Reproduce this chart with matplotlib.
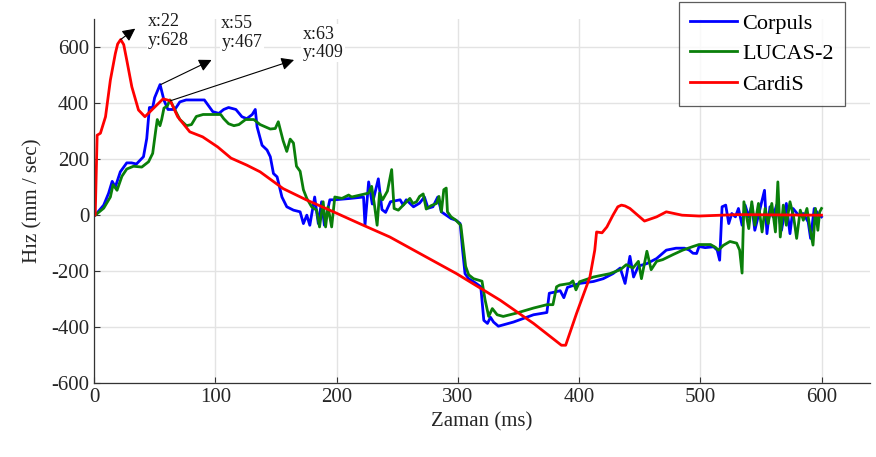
import matplotlib
matplotlib.use("Agg")
import matplotlib.pyplot as plt

plt.rcParams["font.family"] = ["Liberation Serif", "DejaVu Serif"]
plt.rcParams["axes.unicode_minus"] = False

# Corpuls
corpuls_x = [0, 1, 8, 12, 15, 17.6, 21.7, 27, 31, 35, 40.8, 43.5, 45.7, 48.4, 50, 54.5, 57.7, 61, 66.7,
             70.8, 76, 91, 94, 98, 103, 107, 111, 117, 122, 126, 130.5, 133, 134.5, 138.6, 142.7, 145.4,
             148, 151, 155, 159, 164.5, 170, 172.7, 175.5, 178, 182, 185, 187.7, 190, 194.5, 198.6,
             211.5, 222.3, 223.5, 226.5, 229.5, 234.5, 237.5, 240.5, 244.5, 252.5, 255, 257.5, 263.5,
             268.5, 272.5, 275.5, 279.5, 283.5, 286.5, 290.5, 294.5, 298.5, 302, 304, 306, 309, 314.5,
             319, 321.5, 324.5, 327, 329.5, 333.5, 346, 362.5, 373.5, 375.5, 380, 384.5, 387.5, 390.5,
             400.5, 412, 420, 428, 434, 438, 442, 445, 449, 456, 464, 472, 480, 487, 491, 494, 497, 499,
             504, 511, 514, 516, 518, 521, 523.5, 526, 529, 531.5, 534.5, 537, 540, 542.5, 545, 548,
             551, 553, 555, 557.5, 560, 563, 567, 571, 574, 576.5, 581, 585, 589, 591, 594, 597, 600]
corpuls_y = [0, 0, 36, 78, 121, 101, 155, 187, 187, 183, 209, 274, 385, 385, 420, 467, 411, 378, 378,
             405, 412, 412, 394, 370, 364, 378, 385, 378, 352, 345, 360, 378, 316, 250, 233, 209,
             149, 137, 65, 30, 18, 12, -30, 0, -36, 65, -30, 48, -36, 55, 55,
             60, 65, -36, 119, 40, 130, 20, 10, 48, 55, 36, 55, 30,
             43, 65, 25, 30, 65, 12, 0, -12, -18, -30, -125, -209, -227, -242,
             -256, -376, -387, -365, -382, -397, -382, -356, -348, -279, -275, -270, -295, -258,
             -244, -237, -227, -209, -189, -244, -147, -221, -182, -173, -155, -125, -118, -118, -125, -136, -137, -112,
             -116, -113, -125, -161, 30, 36, -30, 6, -6, 24, -36, 36, -6, 36, -54, 0,
             54, 89, -66, 30, -6, 36, -54, 42, -66, 24, 0, 6, -24, -83, 24, 6, -6]

# LUCAS-2
lucas_x = [0, 1, 8, 13.5, 15.7, 19, 23, 27, 32.6, 39.4, 45, 48.4, 51, 52.2, 54.4, 55.8, 57.7, 60.4, 62.6,
           66.7, 70.8, 76.3, 80.4, 84.4, 90, 104.5, 107, 111, 115.4, 119.5, 125, 131.8, 137, 145.4,
           149.5, 152, 156, 159, 161.8, 164.5, 167, 170, 172.7, 175.5, 179.5, 183.6, 186, 189, 191,
           193, 196, 198.6, 204.5, 210, 212.5, 219.5, 226.5, 229, 231.5, 233.5, 235.5, 238, 242,
           245.5, 247.5, 251, 256.5, 260.5, 263, 266, 268.5, 271.5, 274, 278, 282.5, 284.5, 286.5,
           288.5, 290.5, 291.5, 294.5, 298.5, 302.5, 306.5, 309, 313, 320, 322.5, 325.5, 328.5, 332.5,
           337.5, 348.5, 362.5, 373.5, 378.5, 381.5, 384, 392.5, 395, 397.5, 400.5, 412, 425.5, 434,
           439, 444.5, 449, 451.5, 456, 459.5, 464, 469, 477.5, 485.5, 494, 499, 508.5, 512.5, 515,
           519, 524.5, 530, 532.5, 534.5, 536, 540, 542.5, 545, 548, 551, 553.5, 556, 559, 562, 564,
           566, 568.5, 571, 574, 577, 579.5, 582.5, 585, 588, 590.5, 593, 595, 597, 598.5, 600]
lucas_y = [0, 0, 25, 65, 109, 89, 139, 165, 175, 172, 191, 221, 306, 342, 320, 342, 383, 390, 412,
           377, 342, 320, 324, 353, 360, 360, 345, 327, 320, 324, 342, 342, 324, 308,
           310, 334, 266, 228, 272, 258, 175, 157, 91, 60, 30, 18, -42, 48, -42,
           30, -42, 65, 60, 72, 65, 72, 79, 103, 30, -36, 79, 55, 86,
           163, 24, 18, 42, 60, 42, 48, 67, 76, 22, 34, 42, 67, 12,
           91, 97, 12, -6, -18, -36, -183, -213, -227, -236, -302, -362, -334, -356,
           -362, -350, -332, -320, -320, -256, -250, -244, -235, -267, -238, -221, -209, -195,
           -177, -189, -165, -227, -129, -195, -165, -159, -141, -125, -112, -105, -105, -115, -125,
           -108, -94, -100, -125, -207, 48, -48, 48, -36, 42, -60, 24, -30, 42, -60, 119,
           -78, 36, -36, 48, -6, -83, 18, -18, 24, -48, -107, 24, -54, 12, 24]

# CardiS
cardis_x = [0, 1, 2.6, 5.3, 9.5, 13.5, 17.6, 19.5, 22, 24.5, 27, 31.2, 36.7, 42, 49, 57, 63, 69, 79,
            89.6, 102, 113, 126, 137, 156, 175, 197.5, 220, 244, 270, 299, 335, 362.5, 385.5, 389,
            398, 409, 413, 414.5, 419, 423, 428, 432, 435, 438, 442, 454, 464, 472, 485, 499, 530, 600]
cardis_y = [0, 0, 286, 293, 352, 483, 578, 612, 628, 610, 555, 459, 376, 352, 382, 416, 409, 352, 298,
            280, 244, 204, 179, 155, 95, 55, 12, -32, -78, -140, -209, -304, -387, -465, -465,
            -351, -221, -125, -60, -63, -42, 0, 30, 36, 33, 24, -21, -6, 12, 0, -3, 2, 0]

series_names = ["Corpuls", "LUCAS-2", "CardiS"]
series_colors = ["#0000ff", "#0a7f0a", "#ff0000"]

# data tips
tips = [(22, 628), (55, 467), (63, 409)]

fig = plt.figure(figsize=(8.76, 4.57), dpi=100)
ax = fig.add_axes([94 / 876, 74 / 457, 776 / 876, 363.6 / 457])

for xs, ys, name, c in zip([corpuls_x, lucas_x, cardis_x], [corpuls_y, lucas_y, cardis_y],
                           series_names, series_colors):
    ax.plot(xs, ys, color=c, lw=2.0, label=name)

ax.set_xlim(0, 640)
ax.set_ylim(-600, 700)
ax.set_xticks(range(0, 601, 100))
ax.set_yticks(range(-600, 601, 200))
ax.grid(True, color="#e3e3e3", lw=1.0)
ax.set_axisbelow(True)

for s in ["top", "right"]:
    ax.spines[s].set_visible(False)
for s in ["left", "bottom"]:
    ax.spines[s].set_color("#333333")
    ax.spines[s].set_linewidth(0.9)
ax.tick_params(direction="in", length=4, colors="#333333", labelsize=15, labelcolor="#262626")

ax.set_xlabel("Zaman (ms)", fontsize=15, color="#262626", labelpad=4)
ax.set_ylabel("Hız (mm / sec)", fontsize=15, color="#262626", labelpad=6)

# arrows and labels of the data tips
heads = [(34, 667), (97, 555), (165, 555)]
text_pos = [(44.5, 658), (105, 651), (172, 615)]
for (tx, ty), head, tp in zip(tips, heads, text_pos):
    ax.annotate("", xy=head, xytext=(tx, ty),
                arrowprops=dict(arrowstyle="-|>", color="black", lw=0.8, mutation_scale=19,
                                shrinkA=0, shrinkB=0))
    ax.text(tp[0], tp[1], f"x:{tx}\ny:{ty}", fontsize=13, va="center", ha="left",
            color="#1a1a1a", linespacing=1.1,
            bbox=dict(fc="white", ec="none", pad=1))

leg = ax.legend(loc="upper right", bbox_to_anchor=(845 / 876, 1 - 2 / 457),
                bbox_transform=fig.transFigure, fontsize=16, frameon=True, fancybox=False,
                handlelength=2.1, handletextpad=0.25, labelspacing=0.45, borderpad=0.5,
                borderaxespad=0)
leg.get_frame().set_edgecolor("#333333")
leg.get_frame().set_linewidth(0.9)

fig.savefig("out.png", dpi=100)
